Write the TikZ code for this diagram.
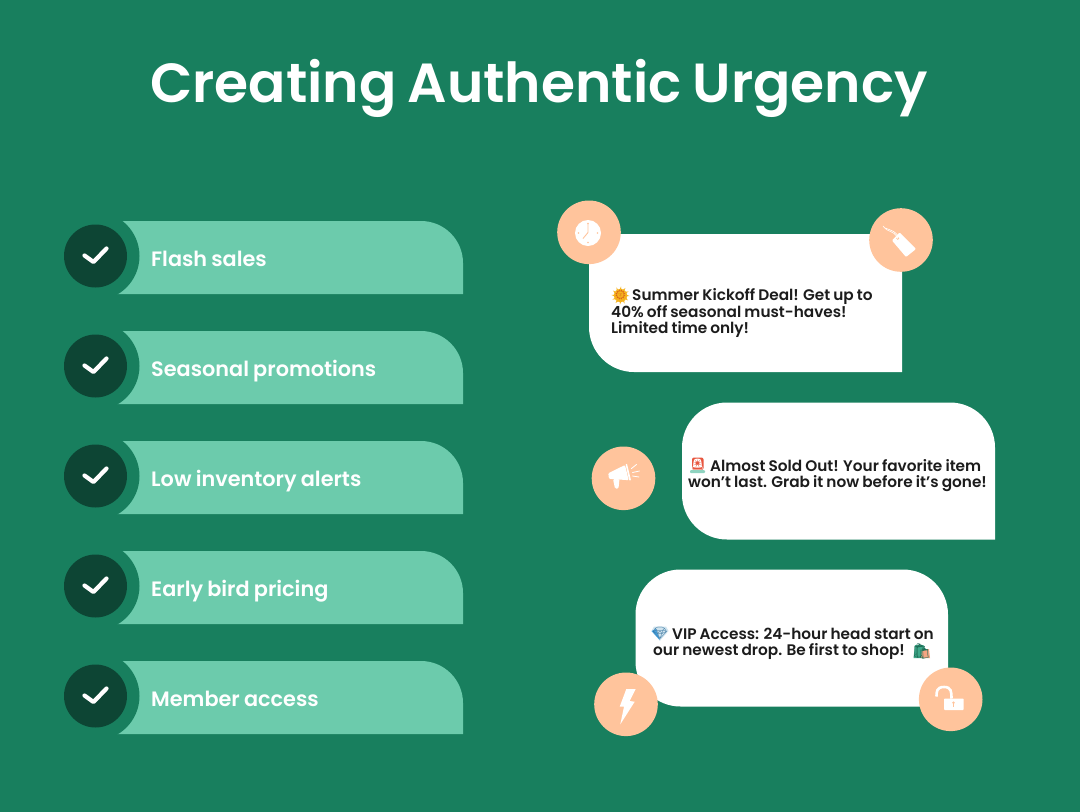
\documentclass[tikz,border=0pt]{standalone}
\usepackage{fontspec}
\setmainfont{Poppins}
\newfontfamily\titlefont[WordSpace=1]{Poppins SemiBold}
\newfontfamily\bodyfont[WordSpace=0.85]{Poppins SemiBold}
\newfontfamily\emojifont{Noto Emoji}
\definecolor{bgc}{HTML}{187F5E}
\definecolor{pillc}{HTML}{6CCBAC}
\definecolor{darkc}{HTML}{0D4534}
\definecolor{peach}{HTML}{FFC49C}
\definecolor{inkc}{HTML}{1C1C1C}
\definecolor{sunc}{HTML}{F5B21C}
\definecolor{sundark}{HTML}{D9601A}
\definecolor{redc}{HTML}{E8563F}
\definecolor{tealc}{HTML}{8FD3C0}
\definecolor{bluec}{HTML}{4AA3E0}
\definecolor{paleblue}{HTML}{CFE3EE}
\definecolor{bagc}{HTML}{3FA98A}
\definecolor{bagdark}{HTML}{1F6F58}
\definecolor{bagor}{HTML}{F4A582}
\tikzset{
  x=1pt,y=-1pt,
  pillshape/.style={fill=pillc},
  ringdisc/.style={circle,fill=bgc,minimum size=89pt,inner sep=0pt},
  checkdisc/.style={circle,fill=darkc,minimum size=63pt,inner sep=0pt},
  checkmark/.style={draw=white,line width=4.2pt,line cap=round,line join=round},
  pilllabel/.style={anchor=base west,text=white,inner sep=0pt,font=\titlefont\fontsize{20.8}{24}\selectfont},
  bubble/.style={fill=white},
  bubbletext/.style={anchor=base west,text=inkc,inner sep=0pt,font=\bodyfont\fontsize{15.3}{16.5}\selectfont},
  emojitext/.style={inner sep=0pt,font=\emojifont\fontsize{15}{16}\selectfont},
  badge/.style={circle,fill=peach,minimum size=63.6pt,inner sep=0pt},
  iconwhite/.style={fill=white},
  iconpeach/.style={fill=peach},
  iconline/.style={draw=white,line cap=round},
}
\begin{document}
\begin{tikzpicture}
\useasboundingbox (0,0) rectangle (1080,812);
\fill[bgc] (0,0) rectangle (1080,812);
\node[anchor=base,text=white,inner sep=0pt,font=\titlefont\fontsize{55.1}{60}\selectfont] (title) at (539,102) {Creating Authentic Urgency};
% pills
\fill[pillshape] (100,294) -- (463,294) [rounded corners=42pt] -- (463,221) [sharp corners] -- (100,221) -- cycle;
\node[ringdisc] (ring1) at (95,256) {};
\node[checkdisc] (check1) at (95.5,256) {};
\draw[checkmark] (84.5,255.5) -- (93.5,262) -- (106.5,248.5);
\node[pilllabel] (label1) at (151,266) {Flash sales};
\fill[pillshape] (100,404) -- (463,404) [rounded corners=42pt] -- (463,331) [sharp corners] -- (100,331) -- cycle;
\node[ringdisc] (ring2) at (95,366) {};
\node[checkdisc] (check2) at (95.5,366) {};
\draw[checkmark] (84.5,365.5) -- (93.5,372) -- (106.5,358.5);
\node[pilllabel] (label2) at (151,376) {Seasonal promotions};
\fill[pillshape] (100,514) -- (463,514) [rounded corners=42pt] -- (463,441) [sharp corners] -- (100,441) -- cycle;
\node[ringdisc] (ring3) at (95,476) {};
\node[checkdisc] (check3) at (95.5,476) {};
\draw[checkmark] (84.5,475.5) -- (93.5,482) -- (106.5,468.5);
\node[pilllabel] (label3) at (151,486) {Low inventory alerts};
\fill[pillshape] (100,624) -- (463,624) [rounded corners=42pt] -- (463,551) [sharp corners] -- (100,551) -- cycle;
\node[ringdisc] (ring4) at (95,586) {};
\node[checkdisc] (check4) at (95.5,586) {};
\draw[checkmark] (84.5,585.5) -- (93.5,592) -- (106.5,578.5);
\node[pilllabel] (label4) at (151,596) {Early bird pricing};
\fill[pillshape] (100,734) -- (463,734) [rounded corners=42pt] -- (463,661) [sharp corners] -- (100,661) -- cycle;
\node[ringdisc] (ring5) at (95,696) {};
\node[checkdisc] (check5) at (95.5,696) {};
\draw[checkmark] (84.5,695.5) -- (93.5,702) -- (106.5,688.5);
\node[pilllabel] (label5) at (151,706) {Member access};
% bubbles
\fill[bubble] (902,372) [rounded corners=45pt] -- (589,372) [sharp corners] -- (589,234) -- (902,234) -- cycle;
\fill[bubble] (995,539.5) [rounded corners=45pt] -- (682,539.5) -- (682,402.5) -- (995,402.5) [sharp corners] -- cycle;
\fill[bubble] (948,706.5) [rounded corners=45pt] -- (635.5,706.5) -- (635.5,569.5) -- (948,569.5) [sharp corners] -- cycle;
% bubble 1 text
\foreach \a in {0,30,...,330}{\fill[sunc] (620.5,295.5) ++(\a-7:6.3) -- ++(\a+83:1.6) -- ++(\a-7:2.6) -- cycle;}
\fill[sunc] (620.5,295.5) circle[radius=6.6];
\node[emojitext,text=sundark] (sun) at (620.5,295.5) {\fontsize{10}{11}\selectfont 🌞};
\node[bubbletext] (t11) at (632,300.7) {Summer Kickoff Deal! Get up to};
\node[bubbletext] (t12) at (611,317.2) {40\% off seasonal must-haves!};
\node[bubbletext] (t13) at (611,333.4) {Limited time only!};
% bubble 2 text
\fill[redc,rounded corners=2pt] (692,470) -- (692,457.5) -- (703.5,457.5) -- (703.5,470) -- cycle;
\fill[tealc,rounded corners=1pt] (690,470) rectangle (705,473);
\node[emojitext,text=white] (siren) at (697.7,465) {\fontsize{11}{12}\selectfont 🚨};
\node[bubbletext] (t21) at (710,471) {Almost Sold Out! Your favorite item};
\node[bubbletext] (t22) at (688,487.3) {won’t last. Grab it now before it’s gone!};
% bubble 3 text
\fill[paleblue] (654,626.5) -- (666,626.5) -- (668.5,631) -- (660,640.5) -- (651.5,631) -- cycle;
\fill[bluec] (651.5,631) -- (656,629) -- (660,640.5) -- cycle;
\node[emojitext,text=bluec!70!black] (gem) at (660,633) {\fontsize{12}{13}\selectfont 💎};
\node[bubbletext] (t31) at (672,639) {VIP Access: 24-hour head start on};
\node[bubbletext] (t32) at (653,655.2) {our newest drop. Be first to shop!};
\fill[bagc] (913.5,658) -- (915,645) -- (923.5,645) -- (925,658) -- cycle;
\fill[bagor] (921,658) -- (922,649) -- (929,649) -- (930,658) -- cycle;
\node[emojitext,text=bagdark] (bags) at (921.5,651) {\fontsize{15}{16}\selectfont 🛍};
% badges
\node[badge] (clock) at (589,232.3) {};
\node[badge] (tag) at (901,240) {};
\node[badge] (horn) at (623.5,478.3) {};
\node[badge] (bolt) at (626,704.3) {};
\node[badge] (lock) at (950.7,699.3) {};
% clock icon
\fill[iconwhite] (588,233) circle[radius=13];
\foreach \a in {0,90,180,270}{\fill[iconpeach] (588,233) ++(\a:9.5) circle[radius=0.8];}
\draw[peach,line width=0.9pt] (588,223) -- (588,232.5) -- (583,238.5);
% tag icon
\fill[iconwhite,rounded corners=1pt] (892,240.5) -- (899.5,232.5) -- (916,249) -- (906,257) -- cycle;
\fill[iconpeach] (897.7,238.3) circle[radius=1.5];
\draw[iconline,line width=0.6pt] (897.7,238.3) .. controls (893,229) and (889,234) .. (883,226);
\draw[iconline,line width=0.6pt] (897.7,238.3) .. controls (899,232) and (890,230) .. (885,228);
% megaphone icon
\fill[iconwhite,rounded corners=1pt] (608.3,473.3) -- (625,465) -- (628.7,480.2) -- (609,478.8) -- cycle;
\fill[iconwhite,rounded corners=1.2pt] (613,479) -- (619.5,479) -- (618.5,488.5) -- (615,488.5) -- cycle;
\fill[iconwhite,rounded corners=0.8pt] (625.5,464) -- (627,463.7) -- (631,480.3) -- (629.3,480.7) -- cycle;
\draw[iconline,line width=0.8pt] (631.5,468.5) -- (636.5,464.5);
\draw[iconline,line width=0.8pt] (632.5,472.5) -- (639.5,471);
\draw[iconline,line width=0.8pt] (632.5,476) -- (639,477);
% bolt icon
\fill[iconwhite] (626.3,689) -- (635.7,689) -- (629.7,701) -- (634.7,701.7) -- (620.3,724.3) -- (624,706.7) -- (619.7,706.7) -- cycle;
% lock icon
\fill[iconwhite,rounded corners=0.8pt] (944,698.5) rectangle (963.7,710);
\fill[iconpeach] (953.5,702.7) circle[radius=1.4];
\fill[iconpeach] (952.9,703) rectangle (954.1,706.5);
\draw[draw=white,line width=2.6pt] (936.5,696.5) .. controls (936.5,692) and (936.5,687) .. (944,687) .. controls (951.5,687) and (951.5,692) .. (951.5,698.5);
\end{tikzpicture}
\end{document}
